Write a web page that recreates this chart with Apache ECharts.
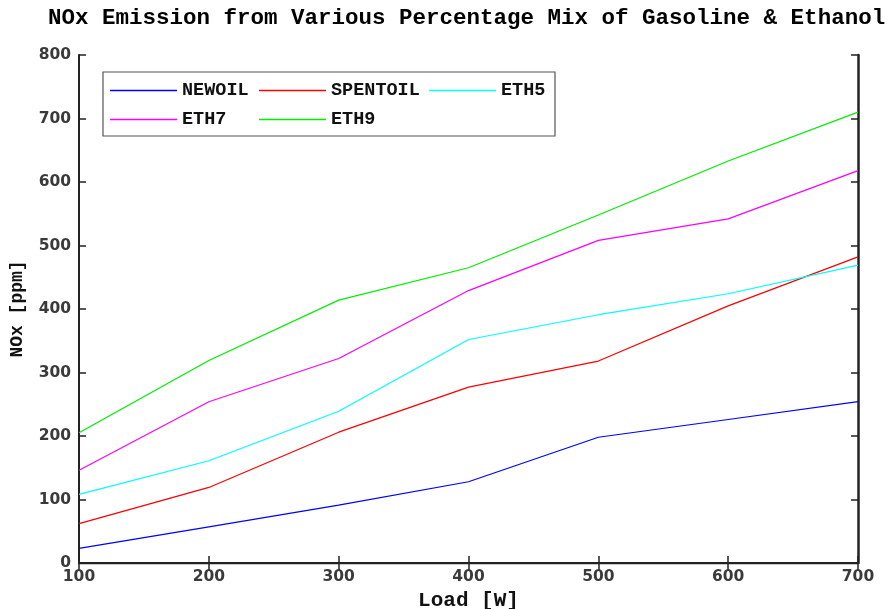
<!DOCTYPE html>
<html>
<head>
<meta charset="utf-8">
<script src="https://cdn.jsdelivr.net/npm/echarts@6/dist/echarts.min.js"></script>
<style>html,body{margin:0;padding:0;background:#fff;}#c{width:888px;height:609px;}</style>
</head>
<body>
<div id="c"></div>
<script>
const loads = [100, 200, 300, 400, 500, 600, 700];
const seriesNames = ['NEWOIL', 'SPENTOIL', 'ETH5', 'ETH7', 'ETH9'];
const newoil   = [23, 57, 91, 128, 198, 226, 254];
const spentoil = [62, 119, 206, 277, 318, 405, 482];
const eth5     = [108, 161, 239, 352, 391, 424, 469];
const eth7     = [146, 254, 322, 429, 508, 542, 618];
const eth9     = [205, 319, 414, 465, 548, 633, 710];
const colors = ['#0000ff', '#ff0000', '#00ffff', '#ff00ff', '#00ee00'];
const values = [newoil, spentoil, eth5, eth7, eth9];

const chart = echarts.init(document.getElementById('c'));
const mono = 'Liberation Mono, Courier New, monospace';
const tickFont = { fontFamily: 'DejaVu Sans', fontWeight: 'bold', fontSize: 15.5, color: '#3a3a3a' };
const frame = { show: true, lineStyle: { color: '#222', width: 2 } };
const thinFrame = { show: true, lineStyle: { color: '#222', width: 1.3 } };
const tick = { show: true, inside: true, length: 7, lineStyle: { color: '#222', width: 1.5 } };

function legendCol(left, names) {
  return {
    left: left, top: 76, orient: 'vertical', itemGap: 10,
    itemWidth: 67, itemHeight: 1.5, icon: 'rect',
    data: names,
    textStyle: { fontFamily: mono, fontWeight: 'bold', fontSize: 18.5, color: '#111', lineHeight: 18 },
    selectedMode: false
  };
}

chart.setOption({
  animation: false,
  backgroundColor: '#fff',
  color: colors,
  title: {
    text: 'NOx Emission from Various Percentage Mix of Gasoline & Ethanol',
    left: 43, top: 2,
    textStyle: { fontFamily: mono, fontWeight: 'bold', fontSize: 22.5, color: '#000' }
  },
  graphic: [{
    type: 'rect', z: 3,
    shape: { x: 103, y: 72, width: 452, height: 64 },
    style: { fill: '#fff', stroke: '#555', lineWidth: 1.2 }
  }],
  legend: [
    legendCol(105, ['NEWOIL', 'ETH7']),
    legendCol(254, ['SPENTOIL', 'ETH9']),
    legendCol(424, ['ETH5'])
  ],
  grid: { left: 79, right: 30, top: 55, bottom: 46, outerBoundsMode: 'none' },
  xAxis: [{
    type: 'value', min: 100, max: 700, interval: 100,
    name: 'Load [W]', nameLocation: 'middle', nameGap: 27,
    nameTextStyle: { fontFamily: mono, fontWeight: 'bold', fontSize: 21, color: '#111' },
    axisLine: frame, axisTick: tick,
    axisLabel: Object.assign({ margin: 6 }, tickFont),
    splitLine: { show: false }
  }, {
    type: 'value', min: 100, max: 700, interval: 100, position: 'top',
    axisLine: thinFrame, axisTick: tick, axisLabel: { show: false }, splitLine: { show: false }
  }],
  yAxis: [{
    type: 'value', min: 0, max: 800, interval: 100,
    name: 'NOx [ppm]', nameLocation: 'middle', nameGap: 53,
    nameTextStyle: { fontFamily: mono, fontWeight: 'bold', fontSize: 18, color: '#111' },
    axisLine: frame, axisTick: tick,
    axisLabel: Object.assign({ margin: 8 }, tickFont),
    splitLine: { show: false }
  }, {
    type: 'value', min: 0, max: 800, interval: 100, position: 'right',
    axisLine: { show: true, lineStyle: { color: '#222', width: 2.5 } },
    axisTick: tick, axisLabel: { show: false }, splitLine: { show: false }
  }],
  series: seriesNames.map((n, i) => ({
    name: n, type: 'line', symbol: 'none',
    lineStyle: { width: 1.2, color: colors[i] },
    itemStyle: { color: colors[i] },
    data: loads.map((x, j) => [x, values[i][j]])
  }))
});
</script>
</body>
</html>
